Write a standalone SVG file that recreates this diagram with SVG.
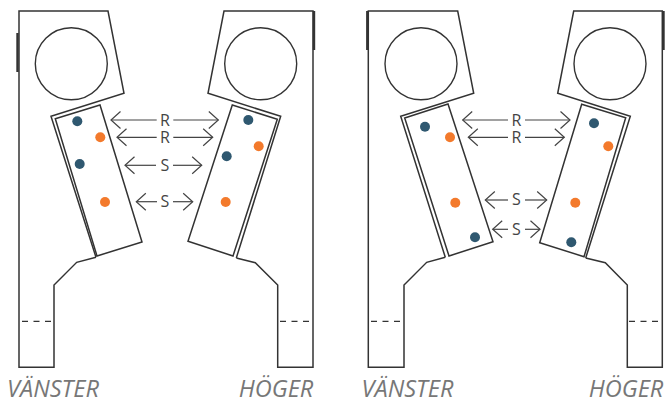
<svg xmlns="http://www.w3.org/2000/svg" width="665" height="399" viewBox="0 0 665 399">
<defs>
<marker id="head" markerUnits="userSpaceOnUse" markerWidth="12" markerHeight="20" refX="10.5" refY="10" orient="auto-start-reverse" viewBox="0 0 12 20"><path d="M1 1.5L10.5 10L1 18.5" fill="none" stroke="#444" stroke-width="1.2"/></marker>
</defs>
<style>
.o{fill:none;stroke:#333;stroke-width:1.5;stroke-linejoin:miter}
.i{fill:#fff;stroke:#333;stroke-width:1.5}
.c{fill:#fff;stroke:#333;stroke-width:1.4}
.b{stroke:#333;stroke-width:2.4;fill:none}
.d{stroke:#333;stroke-width:1.3;stroke-dasharray:6 5.5;fill:none}
.n{fill:#2f5870}
.r{fill:#f37a2c}
.a{stroke:#444;stroke-width:1.2;fill:none;marker-end:url(#head)}
.t{font-family:"Open Sans",sans-serif;font-size:16px;fill:#444;text-anchor:middle}
.l{font-family:"Open Sans",sans-serif;font-size:23.5px;font-style:italic;fill:#777;text-anchor:middle}
</style>
<g id="panel-1-vanster">
<path class="o" d="M96 257.3L76.7 262.3L54 285V367.3H19V11H108L124 93.3L51 116.3L96 257.3"/>
<path class="i" d="M55.3 118.7L100 105L142 242L97 256Z"/>
<circle class="c" cx="71.3" cy="63.7" r="36"/>
<path class="b" d="M17.5 33V72"/>
<path class="d" d="M22 321.3H54"/>
<circle class="n" cx="77.3" cy="121.3" r="5"/><circle class="r" cx="100.3" cy="137.3" r="5"/><circle class="n" cx="79.7" cy="164" r="5"/><circle class="r" cx="105" cy="202" r="5"/>
<text class="l" x="53" y="396.5">VÄNSTER</text>
</g>
<g id="panel-1-hoger">
<path class="o" d="M236.3 258L255.3 262.7L277.7 285V367.3H313V11H224L208 93.3L280.7 116.3L236.3 258"/>
<path class="i" d="M232.3 105L277.3 119.3L233 256L188 241.3Z"/>
<circle class="c" cx="260.7" cy="63.7" r="36"/>
<path class="b" d="M314 11V50"/>
<path class="d" d="M280 321.3H313"/>
<circle class="n" cx="248.3" cy="120" r="5"/><circle class="r" cx="258.7" cy="146.3" r="5"/><circle class="n" cx="226.7" cy="156.3" r="5"/><circle class="r" cx="225.7" cy="202" r="5"/>
<text class="l" x="276" y="396.5">HÖGER</text>
</g>
<g id="panel-2-vanster">
<path class="o" d="M445.3 257.3L426.7 262.3L404 285V367.3H368.3V11H457.7L473.7 93.3L400.7 116.3L445.3 257.3"/>
<path class="i" d="M404.7 118L448 104L493 241.7L449 256Z"/>
<circle class="c" cx="421" cy="63.7" r="36"/>
<path class="b" d="M367.3 11V50"/>
<path class="d" d="M371 321.3H404"/>
<circle class="n" cx="425" cy="126.7" r="5"/><circle class="r" cx="450" cy="137.3" r="5"/><circle class="r" cx="455.3" cy="202.7" r="5"/><circle class="n" cx="475" cy="237.3" r="5"/>
<text class="l" x="407.5" y="396.5">VÄNSTER</text>
</g>
<g id="panel-2-hoger">
<path class="o" d="M585.7 258L605.3 262.7L627.3 285V367.3H662.3V11H573.7L557.7 93.3L630.3 116.3L585.7 258"/>
<path class="i" d="M581.7 104.3L625.7 117.7L584 256.7L539.7 242.7Z"/>
<circle class="c" cx="610" cy="63.7" r="36"/>
<path class="b" d="M663.5 11V50"/>
<path class="d" d="M629 321.3H662"/>
<circle class="n" cx="594" cy="123.3" r="5"/><circle class="r" cx="608.3" cy="146.3" r="5"/><circle class="r" cx="575.3" cy="202.7" r="5"/><circle class="n" cx="571.3" cy="242.3" r="5"/>
<text class="l" x="626" y="396.5">HÖGER</text>
</g>
<g id="connectors">
<path class="a" d="M156.7 120H111"/><path class="a" d="M173.3 120H218.3"/>
<path class="a" d="M156.7 137.3H117"/><path class="a" d="M173.3 137.3H212.7"/>
<path class="a" d="M156 165.3H125"/><path class="a" d="M173 165.3H201.7"/>
<path class="a" d="M157 201.7H136.3"/><path class="a" d="M173 201.7H192.7"/>
<path class="a" d="M508 120H462.7"/><path class="a" d="M525 120H570"/>
<path class="a" d="M508 137.3H468.3"/><path class="a" d="M525 137.3H564.3"/>
<path class="a" d="M508 200H485.3"/><path class="a" d="M525 200H546.7"/>
<path class="a" d="M508 229.3H492.7"/><path class="a" d="M525 229.3H540"/>
</g>
<g id="labels">
<text class="t" x="165" y="125.5">R</text><text class="t" x="165" y="142.5">R</text><text class="t" x="165" y="170.5">S</text><text class="t" x="165" y="207">S</text>
<text class="t" x="516.5" y="125.5">R</text><text class="t" x="516.5" y="142.5">R</text><text class="t" x="516.5" y="205">S</text><text class="t" x="516.5" y="234.5">S</text>
</g>
</svg>
